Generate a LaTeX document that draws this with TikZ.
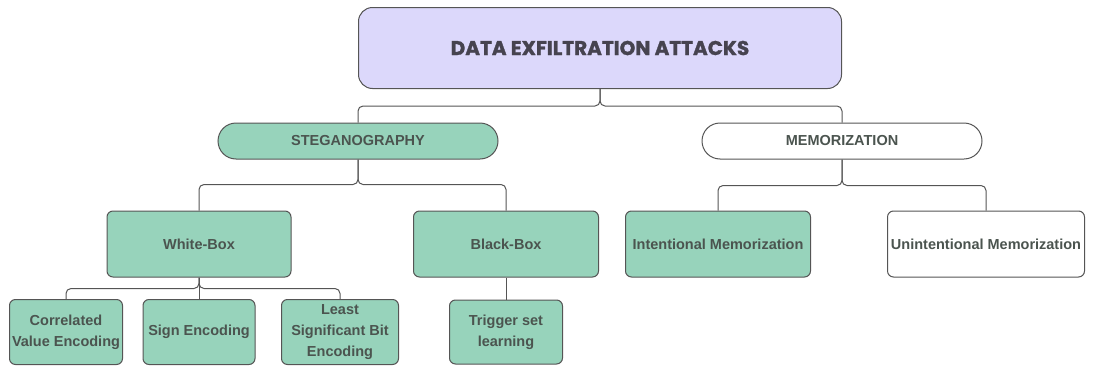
\documentclass[tikz,border=0pt]{standalone}
\usepackage{fontspec}
\setmainfont{Liberation Sans}
\newfontfamily\titlefont[BoldFeatures={FakeBold=1.3}]{Poppins}
\usepackage{xcolor}
\usepackage{tikz}
\usetikzlibrary{positioning}
\definecolor{leaf}{HTML}{97D3BB}
\definecolor{rootfill}{HTML}{DCD8FB}
\definecolor{edge}{HTML}{555555}
\definecolor{ink}{HTML}{4B544F}
\definecolor{titleink}{HTML}{46434F}
\begin{document}
\begin{tikzpicture}[x=1pt,y=-1pt,box/.style={draw=edge,line width=1pt,rectangle,rounded corners=6pt,fill=leaf,minimum height=66pt,align=center,inner sep=1pt,font=\fontsize{14.5}{21}\selectfont\bfseries,text=ink},pill/.style={box,rounded corners=18pt,minimum width=280pt,minimum height=36pt},link/.style={draw=edge,line width=1pt,rounded corners=5pt}]
\useasboundingbox (0,0) rectangle (1093,367);
\node[box,fill=rootfill,minimum width=483pt,minimum height=81pt,rounded corners=14pt,font=\titlefont\fontsize{20}{24}\selectfont\bfseries,text=titleink] (root) at (600,48) {DATA EXFILTRATION ATTACKS};
\node[pill] (steg) at (358,141) {STEGANOGRAPHY};
\node[pill,fill=white] (mem) at (842,141) {MEMORIZATION};
\node[box,minimum width=184pt] (wb) at (199,244) {White-Box};
\node[box,minimum width=185pt] (bb) at (506,244) {Black-Box};
\node[box,minimum width=185pt] (im) at (718,244) {Intentional Memorization};
\node[box,fill=white,minimum width=197pt] (um) at (986,244) {Unintentional Memorization};
\node[box,minimum width=113pt,minimum height=65pt] (cve) at (66,332) {Correlated\\Value Encoding};
\node[box,minimum width=112pt,minimum height=65pt] (se) at (199,332) {Sign Encoding};
\node[box,minimum width=117pt,minimum height=65pt] (lsb) at (340,332) {Least\\Significant Bit\\Encoding};
\node[box,minimum width=113pt,minimum height=64pt] (ts) at (506,332) {Trigger set\\learning};
\draw[link] (root.south) -- ++(0,17) -| (steg.north); \draw[link] (root.south) -- ++(0,17) -| (mem.north);
\draw[link] (steg.south) -- ++(0,25) -| (wb.north); \draw[link] (steg.south) -- ++(0,25) -| (bb.north);
\draw[link] (mem.south) -- ++(0,26) -| (im.north); \draw[link] (mem.south) -- ++(0,26) -| (um.north);
\draw[link] (wb.south) -- ++(0,11) -| (cve.north); \draw[link] (wb.south) -- (se.north); \draw[link] (wb.south) -- ++(0,11) -| (lsb.north);
\draw[link] (bb) -- (ts);
\end{tikzpicture}
\end{document}
